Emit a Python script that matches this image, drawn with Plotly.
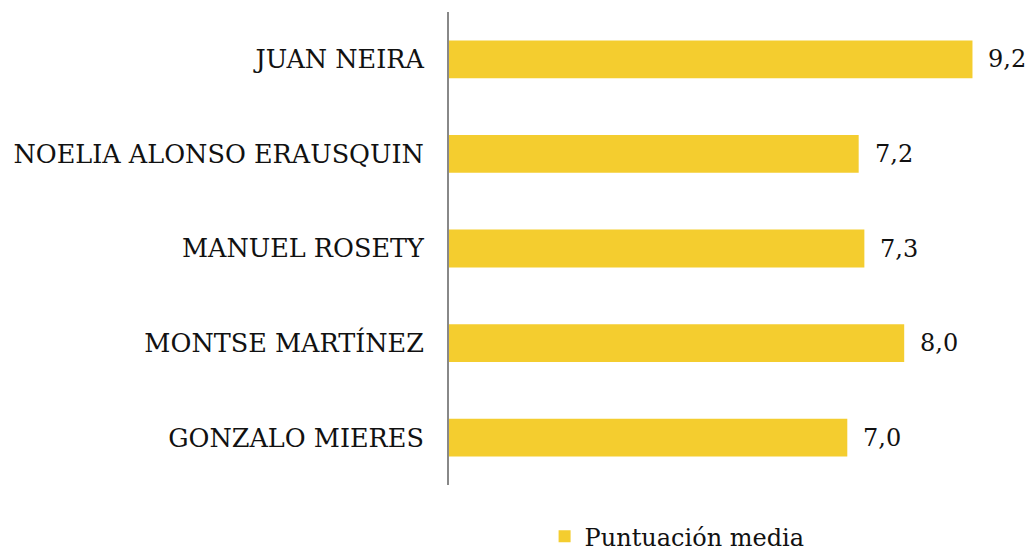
import plotly.graph_objects as go

categories = ["JUAN NEIRA", "NOELIA ALONSO ERAUSQUIN", "MANUEL ROSETY", "MONTSE MARTÍNEZ", "GONZALO MIERES"]
values = [9.2, 7.2, 7.3, 8.0, 7.0]
series_name = "Puntuación media"

FONT = "DejaVu Serif"
labels = [f"{v:.1f}".replace(".", ",") for v in values]

fig = go.Figure()
fig.add_trace(go.Bar(
    y=categories, x=values, orientation="h", name=series_name,
    marker=dict(color="#F4CD2F", line=dict(width=0)),
    showlegend=True,
))
for c, v, t in zip(categories, values, labels):
    fig.add_annotation(x=v, y=c, text=t, showarrow=False, xanchor="left", xshift=14,
                       font=dict(family=FONT, size=24, color="#111"))

fig.update_layout(
    width=1029, height=555,
    margin=dict(l=449, r=11, t=12, b=70),
    paper_bgcolor="white", plot_bgcolor="white",
    bargap=0.6,
    font=dict(family=FONT, size=25, color="#111"),
    showlegend=True,
    legend=dict(orientation="h", x=0.168, xanchor="left", xref="paper",
                y=0.033, yanchor="middle", yref="container",
                font=dict(family=FONT, size=24, color="#111"), itemwidth=30),
    xaxis=dict(range=[0, 10], showgrid=False, zeroline=False, showticklabels=False,
               showline=False, ticks=""),
    yaxis=dict(autorange="reversed", showgrid=False, zeroline=False, showline=True,
               linecolor="#888", linewidth=2, ticks="", ticklabelstandoff=18,
               tickfont=dict(family=FONT, size=25.5, color="#111")),
)
fig.write_html("out.html", config={"displayModeBar": False},
               post_script="document.body.style.margin='0';document.body.style.overflow='hidden';")
